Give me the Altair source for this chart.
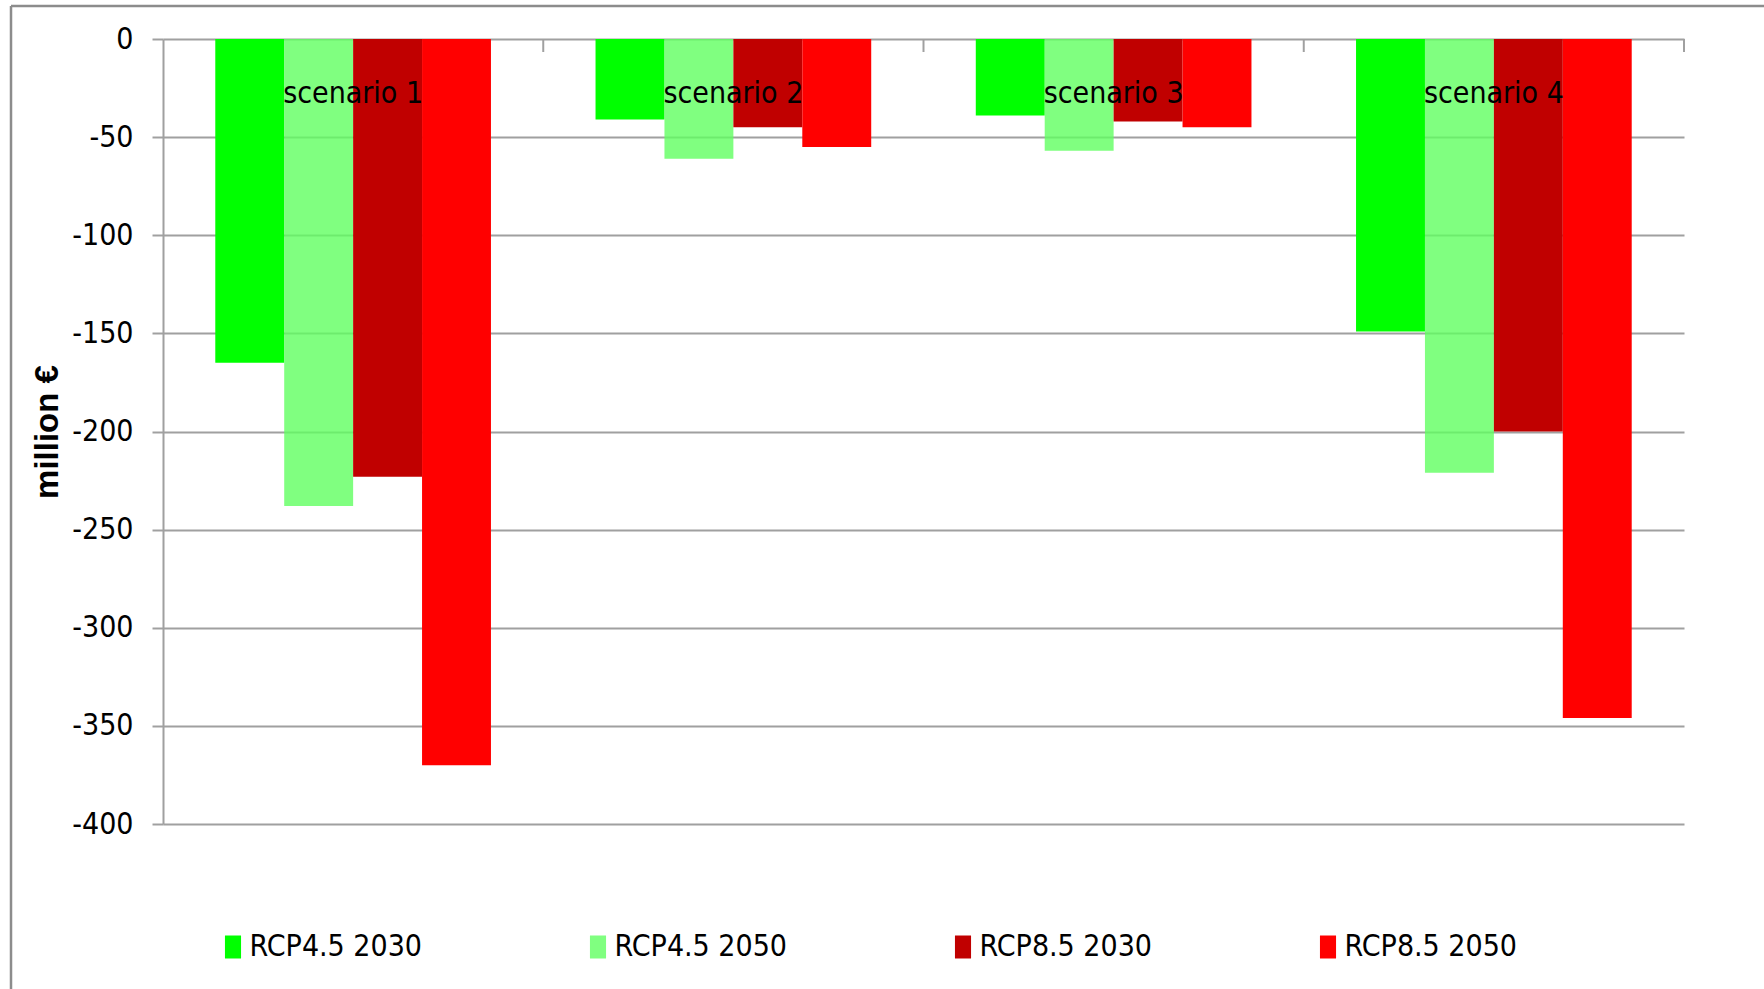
import altair as alt
import pandas as pd

# Categories and series
scenarios = ["scenario 1", "scenario 2", "scenario 3", "scenario 4"]
series = ["RCP4.5 2030", "RCP4.5 2050", "RCP8.5 2030", "RCP8.5 2050"]

# Values in million €
rcp45_2030 = [-165, -41, -39, -149]
rcp45_2050 = [-238, -61, -57, -221]
rcp85_2030 = [-223, -45, -42, -200]
rcp85_2050 = [-370, -55, -45, -346]

colors = ["#00ff00", "rgba(96,255,96,0.8)", "#c00000", "#ff0000"]
y_ticks = [-400, -350, -300, -250, -200, -150, -100, -50, 0]

rows = []
for name, vals in zip(series, [rcp45_2030, rcp45_2050, rcp85_2030, rcp85_2050]):
    for sc, v in zip(scenarios, vals):
        rows.append({"scenario": sc, "series": name, "value": v})
df = pd.DataFrame(rows)
cat_df = pd.DataFrame({"scenario": scenarios})
one = pd.DataFrame({"k": [0]})

W, H = 1521, 785
FONT = "DejaVu Sans Condensed, Liberation Sans Narrow, sans-serif"
FS = 30
GRID = "#a0a0a0"
FRAME = "#8c8c8c"

x_enc = alt.X("scenario:N", sort=scenarios,
              scale=alt.Scale(paddingInner=0, paddingOuter=0), axis=None)

bars = alt.Chart(df).mark_bar().encode(
    x=x_enc,
    xOffset=alt.XOffset("series:N", sort=series,
                        scale=alt.Scale(paddingInner=0, paddingOuter=0.7586)),
    y=alt.Y("value:Q",
            scale=alt.Scale(domain=[-400, 0], nice=False, zero=False),
            axis=alt.Axis(values=y_ticks, labelExpr="'' + datum.value",
                          labelFont=FONT, labelFontSize=FS, labelColor="black",
                          labelPadding=19, tickSize=11, tickColor=GRID, tickWidth=2,
                          domainColor=GRID, domainWidth=2,
                          gridColor=GRID, gridWidth=2,
                          title="million €", titleFont="Liberation Sans",
                          titleFontWeight="bold", titleFontSize=33, titleColor="black",
                          titleAngle=270, titleX=-116, titleY=H / 2,
                          titleAlign="center", titleBaseline="middle")),
    color=alt.Color("series:N", sort=series,
                    scale=alt.Scale(domain=series, range=colors),
                    legend=alt.Legend(orient="none", legendX=55, legendY=893,
                                      direction="horizontal", title=None,
                                      symbolType="M-0.7,-1H0.7V1H-0.7Z",
                                      symbolSize=529, symbolStrokeWidth=0,
                                      symbolOpacity=1,
                                      labelFont=FONT, labelFontSize=FS,
                                      labelColor="black", labelOffset=1.5,
                                      columnPadding=160, padding=0, labelLimit=400)),
)

# Category names drawn inside the plot just under the zero line
labels = alt.Chart(cat_df).mark_text(font=FONT, fontSize=FS, baseline="middle",
                                     color="black").encode(
    x=alt.X("scenario:N", sort=scenarios),
    y=alt.value(55),
    text="scenario:N",
)

# Category separator ticks hanging from the zero line
ticks = alt.Chart(cat_df).mark_rule(color=GRID, strokeWidth=2).encode(
    x=alt.X("scenario:N", sort=scenarios, bandPosition=1),
    y=alt.value(0),
    y2=alt.value(13),
)

# Chart-area frame (left and top edges)
frame_left = alt.Chart(one).mark_rule(color=FRAME, strokeWidth=2.5).encode(
    x=alt.value(-152), y=alt.value(-33), y2=alt.value(H + 300))
frame_top = alt.Chart(one).mark_rule(color=FRAME, strokeWidth=2.5).encode(
    y=alt.value(-33), x=alt.value(-152), x2=alt.value(W + 300))

chart = alt.layer(bars, labels, ticks, frame_left, frame_top).properties(
    width=W, height=H,
    autosize="none",
    padding={"left": 163, "top": 39, "right": 80, "bottom": 165},
    background="white",
).configure_view(stroke=None)

chart.save("out.html", embed_options={"renderer": "svg", "actions": False})
